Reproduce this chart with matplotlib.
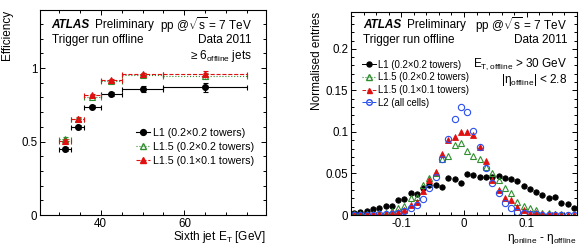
import matplotlib
matplotlib.use('Agg')
import matplotlib.pyplot as plt
from matplotlib.lines import Line2D
from matplotlib.ticker import MultipleLocator, FixedLocator, FuncFormatter
import numpy as np

# ---- left panel: efficiency vs sixth jet ET ----
bin_lo = [30, 33, 36, 40, 45, 55]
bin_hi = [33, 36, 40, 45, 55, 75]
eff_l1 = [0.449, 0.600, 0.737, 0.823, 0.859, 0.869]
err_l1 = [0.012, 0.012, 0.012, 0.012, 0.020, 0.030]
eff_l15_02 = [0.515, 0.650, 0.805, 0.912, 0.953, 0.948]
err_l15_02 = [0.015, 0.012, 0.010, 0.010, 0.010, 0.020]
eff_l15_01 = [0.505, 0.655, 0.816, 0.918, 0.959, 0.962]
err_l15_01 = [0.015, 0.012, 0.010, 0.010, 0.010, 0.020]

# ---- right panel: eta resolution, bins of 0.01 ----
eta_lo = -0.18
eta_width = 0.01
res_l1 = [0.002, 0.0035, 0.005, 0.007, 0.009, 0.011, 0.011, 0.018, 0.019, 0.026, 0.025, 0.033,
          0.036, 0.036, 0.034, 0.045, 0.043, 0.038,
          0.049, 0.048, 0.046, 0.046, 0.046, 0.047, 0.044, 0.043, 0.041, 0.035, 0.031, 0.028,
          0.024, 0.021, 0.022, 0.015, 0.013, 0.009]
res_l15_02 = [0.001, 0.001, 0.001, 0.0015, 0.002, 0.003, 0.005, 0.009, 0.011, 0.021, 0.022, 0.036,
              0.044, 0.050, 0.068, 0.071, 0.084, 0.087,
              0.077, 0.071, 0.068, 0.058, 0.051, 0.042, 0.033, 0.026, 0.016, 0.011, 0.008, 0.006,
              0.003, 0.002, 0.001, 0.001, 0.0005, 0.0005]
res_l15_01 = [0.0005, 0.0005, 0.001, 0.001, 0.001, 0.0015, 0.002, 0.004, 0.006, 0.012, 0.016, 0.029,
              0.042, 0.052, 0.074, 0.090, 0.094, 0.100,
              0.100, 0.096, 0.082, 0.065, 0.042, 0.030, 0.021, 0.018, 0.010, 0.006, 0.003, 0.002,
              0.001, 0.001, 0.001, 0.0005, 0.0005, 0.0005]
res_l2 = [0.0003, 0.0003, 0.0005, 0.0005, 0.001, 0.001, 0.001, 0.002, 0.005, 0.008, 0.012, 0.019,
          0.032, 0.046, 0.068, 0.091, 0.116, 0.130,
          0.124, 0.1015, 0.082, 0.057, 0.039, 0.027, 0.015, 0.009, 0.004, 0.003, 0.001, 0.001,
          0.0005, 0.0005, 0.0003, 0.0003, 0.0003, 0.0003]

labels_left = ['L1 (0.2×0.2 towers)', 'L1.5 (0.2×0.2 towers)', 'L1.5 (0.1×0.1 towers)']
labels_right = labels_left + ['L2 (all cells)']

BLACK = '#000000'
GREEN = '#2f8f2f'
RED = '#e01010'
BLUE = '#2a4ff0'

plt.rcParams['font.family'] = 'Liberation Sans'
plt.rcParams['mathtext.fontset'] = 'custom'
plt.rcParams['mathtext.rm'] = 'Liberation Sans'
plt.rcParams['mathtext.it'] = 'Liberation Sans:italic'
plt.rcParams['mathtext.bf'] = 'Liberation Sans:bold'
plt.rcParams['axes.unicode_minus'] = False

W, H = 583, 252
FS = 8.5   # header / axis label text
fig = plt.figure(figsize=(W / 100, H / 100), dpi=100)


def fpos(x, y):
    return x / W, 1 - y / H


def style_axes(ax):
    ax.tick_params(which='both', direction='in', top=True, right=True, labelsize=8.3, pad=2)
    ax.tick_params(which='major', length=3.8, width=0.7)
    ax.tick_params(which='minor', length=2.0, width=0.7)
    for s in ax.spines.values():
        s.set_linewidth(0.8)
    ax.yaxis.set_major_formatter(FuncFormatter(lambda v, p: '%g' % round(v, 4)))
    ax.xaxis.set_major_formatter(FuncFormatter(lambda v, p: '%g' % round(v, 4)))


# ================= left =================
ax1 = fig.add_axes([40 / W, 1 - 215 / H, 226 / W, 205 / H])
lo = np.array(bin_lo, dtype=float)
hi = np.array(bin_hi, dtype=float)
ctr = (lo + hi) / 2
xerr = (hi - lo) / 2

series = [
    (eff_l1, err_l1, BLACK, 'o', BLACK, '-'),
    (eff_l15_02, err_l15_02, GREEN, '^', 'none', ':'),
    (eff_l15_01, err_l15_01, RED, '^', RED, '--'),
]
for vals, errs, col, mk, fc, ls in series:
    eb = ax1.errorbar(ctr, vals, xerr=xerr, yerr=errs, fmt=mk, color=col, mfc=fc, mec=col,
                      ms=4.2, mew=0.8, elinewidth=0.8, capsize=1.8, capthick=0.8)
    for lc in eb[2]:
        lc.set_linestyle(ls)

ax1.set_xlim(25.5, 79.5)
ax1.set_ylim(0, 1.395)
ax1.xaxis.set_major_locator(FixedLocator([40, 60]))
ax1.xaxis.set_minor_locator(MultipleLocator(5))
ax1.yaxis.set_major_locator(FixedLocator([0, 0.5, 1]))
ax1.yaxis.set_minor_locator(MultipleLocator(0.1))
style_axes(ax1)

handles = [
    Line2D([], [], color=BLACK, marker='o', ms=4.2, ls='-', lw=0.8),
    Line2D([], [], color=GREEN, marker='^', mfc='none', ms=4.2, ls=':', lw=0.8),
    Line2D([], [], color=RED, marker='^', ms=4.2, ls='--', lw=0.8),
]
fig.legend(handles, labels_left, loc='upper left', bbox_to_anchor=fpos(136, 128),
           frameon=False, fontsize=7.7, handlelength=1.3, handletextpad=0.3,
           labelspacing=0.36, borderpad=0, borderaxespad=0)

fig.text(*fpos(51.5, 25), 'ATLAS', fontsize=FS, fontweight='bold', style='italic', va='center')
fig.text(*fpos(95.5, 25), 'Preliminary', fontsize=FS, va='center')
fig.text(*fpos(252, 25), r'pp @$\sqrt{\mathrm{s}}$ = 7 TeV', fontsize=FS, va='center', ha='right')
fig.text(*fpos(52, 40), 'Trigger run offline', fontsize=FS, va='center')
fig.text(*fpos(252, 40), 'Data 2011', fontsize=FS, va='center', ha='right')
fig.text(*fpos(252, 56), r'≥ 6$_{\mathrm{offline}}$ jets', fontsize=FS, va='center', ha='right')

fig.text(*fpos(7, 10), 'Efficiency', fontsize=FS, rotation=90, ha='center', va='top')
fig.text(*fpos(266, 237), r'Sixth jet E$_{\mathrm{T}}$ [GeV]', fontsize=FS, ha='right', va='center')

# ================= right =================
ax2 = fig.add_axes([351 / W, 1 - 215 / H, 226 / W, 203.5 / H])
eta = eta_lo + eta_width * (np.arange(len(res_l1)) + 0.5)

ax2.plot(eta, res_l1, ls='none', marker='o', color=BLACK, ms=3.9, mew=0.6)
ax2.plot(eta, res_l15_02, ls='none', marker='^', color=GREEN, mfc='none', ms=4.5, mew=0.8)
ax2.plot(eta, res_l15_01, ls='none', marker='^', color=RED, ms=3.9, mew=0.6)
ax2.plot(eta, res_l2, ls='none', marker='o', color=BLUE, mfc='none', ms=4.5, mew=0.8)

ax2.set_xlim(-0.18, 0.18)
ax2.set_ylim(0, 0.245)
ax2.xaxis.set_major_locator(FixedLocator([-0.1, 0, 0.1]))
ax2.xaxis.set_minor_locator(MultipleLocator(0.02))
ax2.yaxis.set_major_locator(MultipleLocator(0.05))
ax2.yaxis.set_minor_locator(MultipleLocator(0.01))
style_axes(ax2)

handles2 = [
    Line2D([], [], color=BLACK, marker='o', ms=3.6, ls='-', lw=0.7),
    Line2D([], [], color=GREEN, marker='^', mfc='none', ms=4.0, ls=':', lw=0.8),
    Line2D([], [], color=RED, marker='^', ms=3.6, ls='--', lw=0.7),
    Line2D([], [], color=BLUE, marker='o', mfc='none', ms=4.0, ls='--', lw=0.7),
]
fig.legend(handles2, labels_right, loc='upper left', bbox_to_anchor=fpos(362, 59.5),
           frameon=False, fontsize=6.9, handlelength=1.45, handletextpad=0.2,
           labelspacing=0.28, borderpad=0, borderaxespad=0)

fig.text(*fpos(363, 25), 'ATLAS', fontsize=FS, fontweight='bold', style='italic', va='center')
fig.text(*fpos(406.5, 25), 'Preliminary', fontsize=FS, va='center')
fig.text(*fpos(567, 25), r'pp @$\sqrt{\mathrm{s}}$ = 7 TeV', fontsize=FS, va='center', ha='right')
fig.text(*fpos(363, 40), 'Trigger run offline', fontsize=FS, va='center')
fig.text(*fpos(567, 40), 'Data 2011', fontsize=FS, va='center', ha='right')
fig.text(*fpos(567, 64), r'E$_{\mathrm{T,offline}}$ > 30 GeV', fontsize=FS, va='center', ha='right')
fig.text(*fpos(567, 80), r'|η$_{\mathrm{offline}}$| < 2.8', fontsize=FS, va='center', ha='right')

fig.text(*fpos(317, 12), 'Normalised entries', fontsize=FS, rotation=90, ha='center', va='top')
fig.text(*fpos(577, 239), r'η$_{\mathrm{online}}$ - η$_{\mathrm{offline}}$', fontsize=FS,
         ha='right', va='center')

fig.savefig('out.png', dpi=100)
